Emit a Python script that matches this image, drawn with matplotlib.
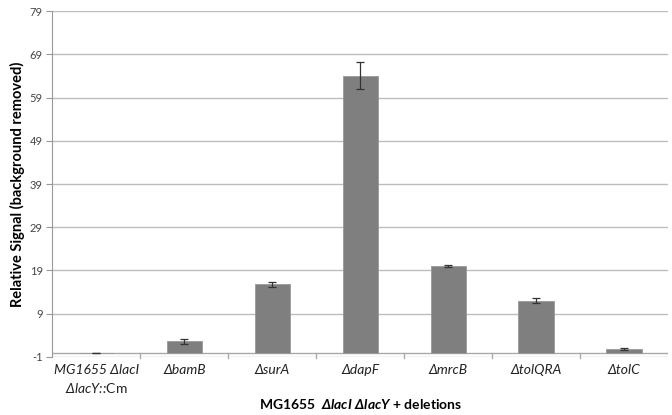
import numpy as np
import matplotlib
matplotlib.use("Agg")
import matplotlib.pyplot as plt

plt.rcParams['font.family'] = ['Lato', 'DejaVu Sans']
plt.rcParams['mathtext.fontset'] = 'custom'
plt.rcParams['mathtext.rm'] = 'Lato'
plt.rcParams['mathtext.it'] = 'Lato:italic'
plt.rcParams['mathtext.bf'] = 'Lato:italic:bold'

strains = ["MG1655 ΔlacI\nΔlacY::$\\mathrm{Cm}$", "ΔbamB", "ΔsurA", "ΔdapF",
           "ΔmrcB", "ΔtolQRA", "ΔtolC"]
signal = [-0.1, 2.6, 15.8, 64.1, 20.0, 12.0, 0.8]
errors = [0.08, 0.5, 0.6, 3.1, 0.3, 0.6, 0.15]
yticks = list(range(-1, 80, 10))

fig = plt.figure(figsize=(6.72, 4.15), dpi=100)
ax = fig.add_axes([0.078, 0.14, 0.916, 0.833])

x = np.arange(len(strains))
ax.bar(x, signal, width=0.4, color='#7f7f7f', edgecolor='#9a9a9a', linewidth=0.6, zorder=3)
ax.errorbar(x, signal, yerr=errors, fmt='none', ecolor='#333333', elinewidth=0.9,
            capsize=3, capthick=0.9, zorder=4)

ax.set_ylim(-1, 79)
ax.set_xlim(-0.5, len(strains) - 0.5)
ax.set_yticks(yticks)
ax.set_yticklabels([str(t) for t in yticks], fontsize=8, color='#444444')
ax.yaxis.grid(True, color='#bdbdbd', linewidth=1.0, zorder=0)
ax.tick_params(axis='y', length=4, color='#999999', width=0.8, pad=3)

# category axis crosses at zero
ax.axhline(0, color='#aaaaaa', linewidth=1.0, zorder=2)
for b in np.arange(0.5, len(strains) - 0.5, 1.0):
    ax.plot([b, b], [0, -1.2], color='#aaaaaa', linewidth=1.0, clip_on=False, zorder=2)

ax.set_xticks(x)
ax.set_xticklabels(strains, fontsize=10, style='italic', color='#222222',
                   va='top', linespacing=1.45)
ax.tick_params(axis='x', length=0, pad=5)

for s in ['top', 'right']:
    ax.spines[s].set_visible(False)
ax.spines['bottom'].set_visible(False)
ax.spines['left'].set_color('#999999')

ax.set_ylabel("Relative Signal (background removed)", fontsize=10.5, fontweight='bold',
              labelpad=3)
ax.set_xlabel("MG1655  $\\mathbf{ΔlacI\\ ΔlacY}$ + deletions", fontsize=10,
              fontweight='bold', labelpad=1)

fig.savefig("out.png", dpi=100)
